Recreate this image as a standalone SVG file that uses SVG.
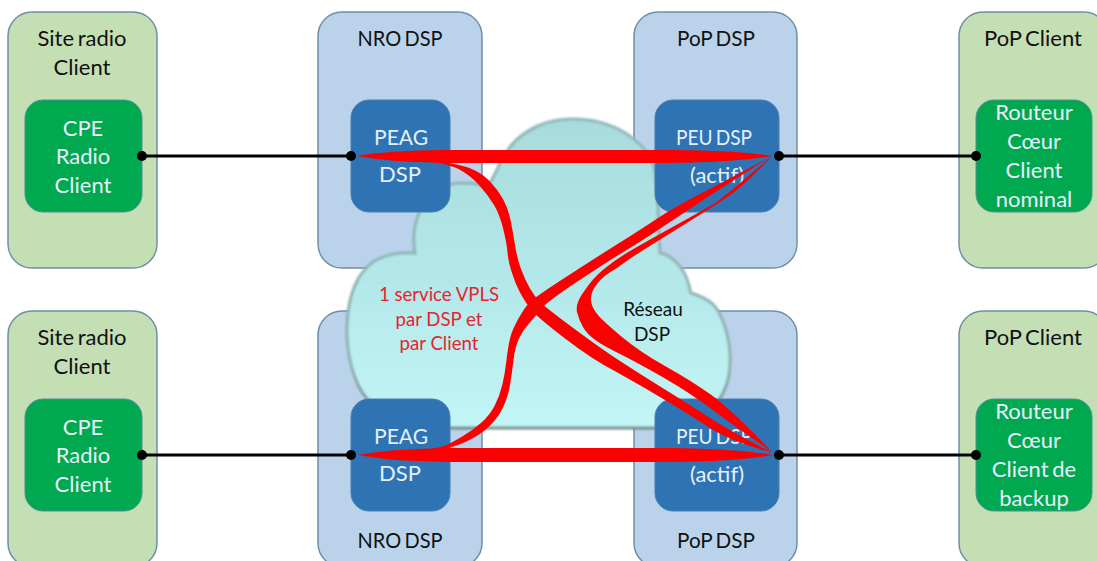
<svg xmlns="http://www.w3.org/2000/svg" width="1097" height="561" viewBox="0 0 1097 561">
<style>
text{font-family:"Lato","Open Sans","Liberation Sans",sans-serif;font-size:22px;text-anchor:middle;word-spacing:-2px}
.g{fill:#c5dfb4;stroke:#6f8fa8;stroke-width:1.5}
.b{fill:#bad3eb;stroke:#6f8fa8;stroke-width:1.5}
.ig{fill:#00a84f;stroke:#4f8f9a;stroke-width:1}
.ib{fill:#2e74b5;stroke:#4a7fae;stroke-width:1}
.w{fill:#e6f0fa}
.k{fill:#111}
.r{fill:#e8232d;font-size:18.6px;word-spacing:0}
.n{font-size:19px}
.wire{stroke:#000;stroke-width:3;fill:none}
.red{fill:#fa0000}
</style>
<defs>
<linearGradient id="cl" x1="0" y1="0" x2="0" y2="1">
<stop offset="0" stop-color="#a8dcdc"/><stop offset="0.55" stop-color="#b4e8ea"/><stop offset="1" stop-color="#c2f6f6"/>
</linearGradient>
<linearGradient id="cs" x1="0" y1="0" x2="0" y2="1">
<stop offset="0" stop-color="#8fb8b8"/><stop offset="0.8" stop-color="#8fb0b0"/><stop offset="1" stop-color="#728c8c"/>
</linearGradient>
<filter id="soft" x="-5%" y="-5%" width="110%" height="110%"><feGaussianBlur stdDeviation="0.9"/></filter>
</defs>
<g id="site-radio-1"><rect class="g" x="8" y="12" width="149" height="256" rx="24"/><text class="k" x="82" y="46">Site radio</text><text class="k" x="82" y="75">Client</text></g>
<g id="nro-dsp-1"><rect class="b" x="318" y="12" width="164" height="256" rx="24"/><text class="k" x="400" y="46" textLength="85" lengthAdjust="spacingAndGlyphs">NRO DSP</text></g>
<g id="pop-dsp-1"><rect class="b" x="634" y="12" width="163" height="256" rx="24"/><text class="k" x="716" y="46" textLength="78" lengthAdjust="spacingAndGlyphs">PoP DSP</text></g>
<g id="pop-client-1"><rect class="g" x="959" y="12" width="149" height="256" rx="24"/><text class="k" x="1033" y="46">PoP Client</text></g>
<g id="site-radio-2"><rect class="g" x="8" y="311" width="149" height="256" rx="24"/><text class="k" x="82" y="345">Site radio</text><text class="k" x="82" y="374">Client</text></g>
<g id="nro-dsp-2"><rect class="b" x="318" y="311" width="164" height="256" rx="24"/><text class="k" x="400" y="548" textLength="85" lengthAdjust="spacingAndGlyphs">NRO DSP</text></g>
<g id="pop-dsp-2"><rect class="b" x="634" y="311" width="163" height="256" rx="24"/><text class="k" x="716" y="548" textLength="78" lengthAdjust="spacingAndGlyphs">PoP DSP</text></g>
<g id="pop-client-2"><rect class="g" x="959" y="311" width="149" height="256" rx="24"/><text class="k" x="1033" y="345">PoP Client</text></g>
<g id="cloud">
<path filter="url(#soft)" d="M497,170 C510,135 540,119 573,119 C612,119 648,140 655,172 C659,200 658,230 660,253 C672,255 684,268 688,282 C690,288 690,292 691,293 C704,297 714,303 718,311 C726,325 731,345 730,362 C730,378 726,392 715,405 C702,420 686,428 660,428 L455,428 C420,428 385,420 368,400 C352,382 346,350 347,325 C348,300 355,275 373,262 C385,254 402,252 415,253 C413,240 413,232 416,222 C422,198 440,183 461,183 C472,183 481,184 488,188 C490,182 494,176 497,170 Z" fill="url(#cl)" stroke="url(#cs)" stroke-width="3"/>
<text class="k n" x="653" y="316">Réseau</text><text class="k n" x="652" y="341">DSP</text>
<text class="r" x="439" y="301">1 service VPLS</text><text class="r" x="439" y="326">par DSP et</text><text class="r" x="439" y="350">par Client</text>
</g>
<g id="cpe-1"><rect class="ig" x="25" y="100" width="117" height="112" rx="18"/><text class="w" x="83" y="136">CPE</text><text class="w" x="83" y="164">Radio</text><text class="w" x="83" y="193">Client</text></g>
<g id="peag-1"><rect class="ib" x="351" y="100" width="99" height="112" rx="18"/><text class="w" x="401" y="145" textLength="54" lengthAdjust="spacingAndGlyphs">PEAG</text><text class="w" x="400" y="182">DSP</text></g>
<g id="peu-1"><rect class="ib" x="655" y="100" width="124" height="112" rx="18"/><text class="w" x="714" y="145" textLength="76" lengthAdjust="spacingAndGlyphs">PEU DSP</text><text class="w" x="717" y="183">(actif)</text></g>
<g id="routeur-1"><rect class="ig" x="976" y="100" width="116" height="112" rx="18"/><text class="w" x="1034" y="120">Routeur</text><text class="w" x="1034" y="149">Cœur</text><text class="w" x="1034" y="178">Client</text><text class="w" x="1034" y="207">nominal</text></g>
<g id="cpe-2"><rect class="ig" x="25" y="399" width="117" height="112" rx="18"/><text class="w" x="83" y="435">CPE</text><text class="w" x="83" y="463">Radio</text><text class="w" x="83" y="492">Client</text></g>
<g id="peag-2"><rect class="ib" x="351" y="399" width="99" height="112" rx="18"/><text class="w" x="401" y="444" textLength="54" lengthAdjust="spacingAndGlyphs">PEAG</text><text class="w" x="400" y="481">DSP</text></g>
<g id="peu-2"><rect class="ib" x="655" y="399" width="124" height="112" rx="18"/><text class="w" x="714" y="444" textLength="76" lengthAdjust="spacingAndGlyphs">PEU DSP</text><text class="w" x="717" y="482">(actif)</text></g>
<g id="routeur-2"><rect class="ig" x="976" y="399" width="116" height="112" rx="18"/><text class="w" x="1034" y="419">Routeur</text><text class="w" x="1034" y="448">Cœur</text><text class="w" x="1034" y="477">Client de</text><text class="w" x="1034" y="506">backup</text></g>
<g id="connectors">
<path class="wire" d="M142,156H351M779,156H976M142,455H351M779,455H976"/>
<g fill="#000"><circle cx="142" cy="156" r="5"/><circle cx="351" cy="156" r="5"/><circle cx="779" cy="156" r="5"/><circle cx="976" cy="156" r="5"/><circle cx="142" cy="455" r="5"/><circle cx="351" cy="455" r="5"/><circle cx="779" cy="455" r="5"/><circle cx="976" cy="455" r="5"/></g>
<path class="red" d="M357,156 C385,151 420,150 460,150 L660,150 C710,150 750,152 772,156 C750,160 710,163 660,163 L460,163 C420,163 385,161 357,156 Z"/>
<path class="red" d="M358,455 C385,450 420,448 460,448 L660,448 C710,448 750,451 773,455 C750,459 710,462 660,462 L460,462 C420,462 385,460 358,455 Z"/>
<path class="red" d="M400,156 Q457,163 469.5,168 Q482,173 490,181.5 Q498,190 503,199 Q508,208 510.5,220 Q513,232 515,245 Q517,258 521,269 Q525,280 530,288.5 Q535,297 540,302 Q545,307 572.5,327.5 Q600,348 620,361 Q640,374 665,389.5 Q690,405 710,418 Q730,431 773,453 Q730,441 710,428 Q690,415 665,400 Q640,385 616.5,372 Q593,360 565,338.5 Q537,317 531,309.5 Q525,302 520,292.5 Q515,283 511.5,271.5 Q508,260 507.5,252.5 Q507,245 503.5,230 Q500,215 494,205 Q488,195 479,185 Q470,175 458.5,169 Q447,163 400,156 Z"/>
<path class="red" d="M400,455 Q440,448 446.5,445 Q453,442 463,436 Q473,430 481.5,422.5 Q490,415 495,405 Q500,395 502.5,384 Q505,373 506.5,360 Q508,347 510,338.5 Q512,330 518.5,318.5 Q525,307 530,302 Q535,297 567.5,276 Q600,255 620,242.5 Q640,230 656.5,219 Q673,208 698,195 Q723,182 770,157 Q723,187 698,203.5 Q673,220 656.5,231 Q640,242 625,251 Q610,260 577.5,281.5 Q545,303 540,310 Q535,317 529,323.5 Q523,330 519,338.5 Q515,347 513.5,360 Q512,373 510,385 Q508,397 503,407.5 Q498,418 489,426.5 Q480,435 466.5,441.5 Q453,448 426.5,452.5 L400,457 Z"/>
<path class="red" d="M772,156 Q723,198 715,203 Q707,208 673.5,226.5 Q640,245 627.5,252.5 Q615,260 604,269 Q593,278 585,290 Q575,303 577,312 Q579,320 583,327 Q587,334 594,339 Q600,344 620,354 Q640,364 665,378.5 Q690,393 710,408 Q730,423 772,452 Q730,408 710,394 Q690,380 665,366 Q640,352 622,337 Q604,322 598,315 Q592,308 591,301 Q590,293 597,284 Q604,275 617,268 Q628,260 634,256 Q640,252 671.5,232.5 Q703,213 723,200 Q743,187 772,156 Z"/>
</g>
</svg>
